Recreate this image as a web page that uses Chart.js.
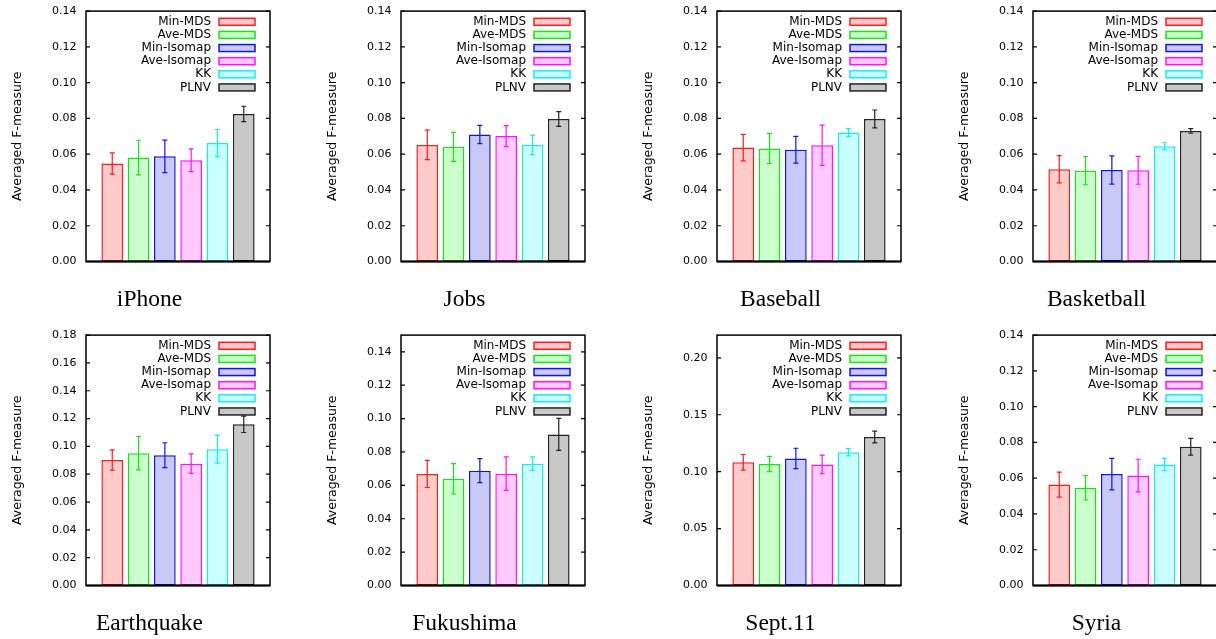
<!DOCTYPE html>
<html>
<head>
<meta charset="utf-8">
<script src="https://cdn.jsdelivr.net/npm/chart.js@4.4.0/dist/chart.umd.min.js"></script>
<style>
html, body { margin: 0; padding: 0; background: #fff; width: 1216px; height: 639px; overflow: hidden; }
canvas { position: absolute; }
</style>
</head>
<body>
<script>
// methods compared in every panel
const methods = ['Min-MDS', 'Ave-MDS', 'Min-Isomap', 'Ave-Isomap', 'KK', 'PLNV'];
const topics = ['iPhone', 'Jobs', 'Baseball', 'Basketball', 'Earthquake', 'Fukushima', 'Sept.11', 'Syria'];

// averaged F-measure and error (+/-) per topic
const iphoneF   = [0.0548, 0.0581, 0.0588, 0.0566, 0.0663, 0.0825];
const iphoneErr = [0.0059, 0.0097, 0.0091, 0.0064, 0.0075, 0.0043];
const jobsF     = [0.0652, 0.0641, 0.0710, 0.0701, 0.0652, 0.0797];
const jobsErr   = [0.0082, 0.0081, 0.0051, 0.0059, 0.0055, 0.0041];
const baseballF   = [0.0637, 0.0632, 0.0625, 0.0650, 0.0721, 0.0797];
const baseballErr = [0.0074, 0.0084, 0.0075, 0.0113, 0.0022, 0.0050];
const basketballF   = [0.0516, 0.0508, 0.0512, 0.0510, 0.0645, 0.0730];
const basketballErr = [0.0076, 0.0079, 0.0079, 0.0078, 0.0019, 0.0013];
const earthquakeF   = [0.0902, 0.0951, 0.0937, 0.0876, 0.0979, 0.1159];
const earthquakeErr = [0.0073, 0.0120, 0.0089, 0.0070, 0.0100, 0.0059];
const fukushimaF   = [0.0668, 0.0639, 0.0688, 0.0670, 0.0730, 0.0905];
const fukushimaErr = [0.0081, 0.0091, 0.0072, 0.0100, 0.0040, 0.0096];
const sept11F   = [0.1082, 0.1067, 0.1116, 0.1064, 0.1170, 0.1305];
const sept11Err = [0.0069, 0.0067, 0.0090, 0.0082, 0.0032, 0.0052];
const syriaF   = [0.0564, 0.0546, 0.0623, 0.0615, 0.0677, 0.0776];
const syriaErr = [0.0070, 0.0068, 0.0088, 0.0091, 0.0034, 0.0047];

// y axis range / tick step per topic
const yMax  = [0.14, 0.14, 0.14, 0.14, 0.18, 0.15, 0.22, 0.14];
const yStep = [0.02, 0.02, 0.02, 0.02, 0.02, 0.02, 0.05, 0.02];

const allF   = [iphoneF, jobsF, baseballF, basketballF, earthquakeF, fukushimaF, sept11F, syriaF];
const allErr = [iphoneErr, jobsErr, baseballErr, basketballErr, earthquakeErr, fukushimaErr, sept11Err, syriaErr];

const lineColors = ['#ff1a1a', '#16e616', '#1010f0', '#ff10ff', '#10f0f0', '#222222'];
const fillColors = ['#ffcaca', '#cbffcb', '#c9c9f6', '#ffcaff', '#cbffff', '#c8c8c8'];

const SANS = '"DejaVu Sans", sans-serif';

// gnuplot style: frame, inward ticks, error bars, key and caption
const gnuplotLook = {
  id: 'gnuplotLook',
  afterDatasetsDraw(chart) {
    const ctx = chart.ctx;
    const a = chart.chartArea;
    const y = chart.scales.y;
    ctx.save();

    chart.data.datasets.forEach((ds, i) => {
      const bar = chart.getDatasetMeta(i).data[0];
      const v = ds.data[0], e = ds.errors[0];
      const yt = y.getPixelForValue(v + e);
      const yb = y.getPixelForValue(v - e);
      ctx.strokeStyle = ds.borderColor;
      ctx.lineWidth = 1.2;
      ctx.beginPath();
      ctx.moveTo(bar.x, yt); ctx.lineTo(bar.x, yb);
      ctx.moveTo(bar.x - 2.5, yt); ctx.lineTo(bar.x + 2.5, yt);
      ctx.moveTo(bar.x - 2.5, yb); ctx.lineTo(bar.x + 2.5, yb);
      ctx.stroke();
    });

    ctx.strokeStyle = '#000';
    ctx.lineWidth = 1.5;
    ctx.strokeRect(a.left, a.top, a.right - a.left, a.bottom - a.top);
    ctx.lineWidth = 2;
    ctx.beginPath();
    ctx.moveTo(a.left, a.bottom); ctx.lineTo(a.right, a.bottom);
    ctx.stroke();

    ctx.lineWidth = 1.2;
    ctx.beginPath();
    y.ticks.forEach(t => {
      const py = y.getPixelForValue(t.value);
      ctx.moveTo(a.left, py); ctx.lineTo(a.left + 4, py);
      ctx.moveTo(a.right - 4, py); ctx.lineTo(a.right, py);
    });
    ctx.stroke();

    // key
    ctx.font = '12px ' + SANS;
    ctx.textAlign = 'right';
    ctx.textBaseline = 'middle';
    chart.data.datasets.forEach((ds, i) => {
      const ry = a.top + 10.7 + i * 13.13;
      ctx.fillStyle = ds.backgroundColor;
      ctx.fillRect(a.right - 51, ry - 3.5, 36, 7);
      ctx.strokeStyle = ds.borderColor;
      ctx.lineWidth = 1.5;
      ctx.strokeRect(a.right - 51, ry - 3.5, 36, 7);
      ctx.fillStyle = '#000';
      ctx.fillText(ds.label, a.right - 59, ry);
    });

    // caption under the panel
    ctx.font = '23.5px "Liberation Serif", "Times New Roman", serif';
    ctx.textAlign = 'center';
    ctx.textBaseline = 'alphabetic';
    ctx.fillStyle = '#000';
    ctx.fillText(chart.data.labels[0], a.left + 63.5, a.bottom + 44);
    ctx.restore();
  }
};

const colLeft = [0, 315, 631, 947];
const rowTop = [-5, 319];

topics.forEach((topic, k) => {
  const cv = document.createElement('canvas');
  cv.width = 290;
  cv.height = 320;
  cv.style.left = colLeft[k % 4] + 'px';
  cv.style.top = rowTop[Math.floor(k / 4)] + 'px';
  document.body.appendChild(cv);

  new Chart(cv, {
    type: 'bar',
    data: {
      labels: [topic],
      datasets: methods.map((m, i) => ({
        label: m,
        data: [allF[k][i]],
        errors: [allErr[k][i]],
        backgroundColor: fillColors[i],
        borderColor: lineColors[i],
        borderWidth: 1.5,
        borderSkipped: false,
        categoryPercentage: 0.8576,
        barPercentage: 0.825
      }))
    },
    options: {
      responsive: false,
      animation: false,
      events: [],
      layout: { padding: { left: 0, right: 20, top: 10, bottom: 53.5 } },
      plugins: { legend: { display: false }, tooltip: { enabled: false } },
      scales: {
        x: { display: false },
        y: {
          min: 0,
          max: yMax[k],
          afterFit: s => { s.width = 86; },
          grid: { display: false, drawTicks: false },
          border: { display: false },
          ticks: {
            stepSize: yStep[k],
            includeBounds: false,
            padding: 9.5,
            color: '#000',
            font: { family: SANS, size: 11 },
            callback: v => v.toFixed(2)
          },
          title: {
            display: true,
            text: 'Averaged F-measure',
            color: '#000',
            font: { family: SANS, size: 12.5 },
            padding: { top: 10, bottom: 0 }
          }
        }
      }
    },
    plugins: [gnuplotLook]
  });
});
</script>
</body>
</html>
